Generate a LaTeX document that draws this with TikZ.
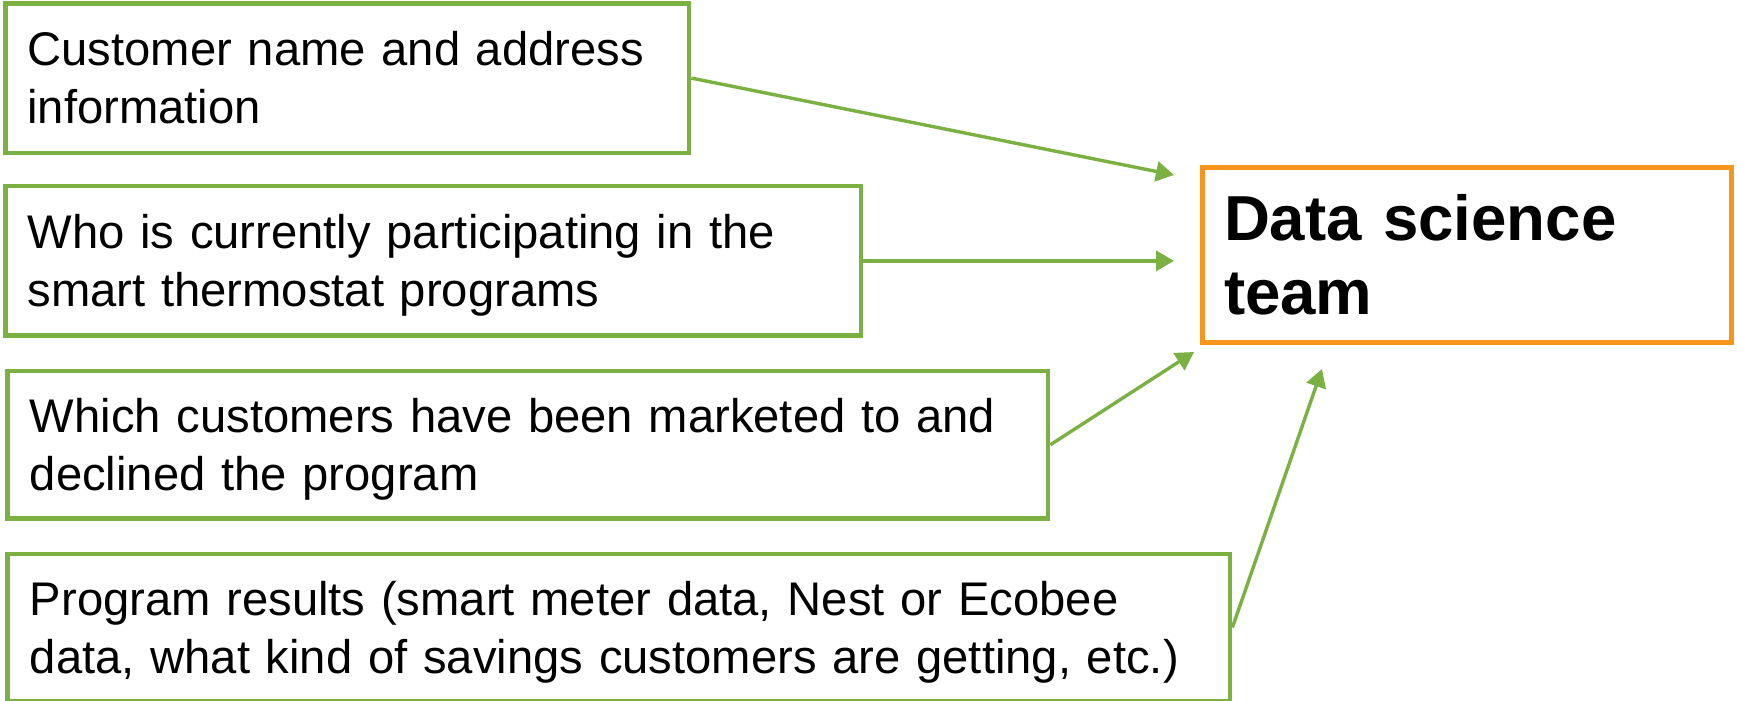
\documentclass[tikz,border=0pt]{standalone}
\usepackage{fontspec}
\setmainfont{Liberation Sans}
\usetikzlibrary{arrows.meta}
\definecolor{boxgreen}{HTML}{7BB043}
\definecolor{boxorange}{HTML}{F8951D}
\newcommand\zerodepth[1]{\raisebox{0pt}[\height][0pt]{#1}}
\tikzset{
  srcbox/.style={draw=boxgreen, line width=4.8pt, fill=white, align=left,
    inner xsep=22pt, inner ysep=0pt, font=\fontsize{47.2}{58}\selectfont},
  dstbox/.style={draw=boxorange, line width=5pt, fill=white, align=left,
    inner xsep=22pt, inner ysep=0pt, font=\fontsize{63.6}{74}\selectfont\bfseries},
  link/.style={draw=boxgreen, line width=3.4pt, -{Triangle[length=18pt,width=20pt]}}
}
\begin{document}
\begin{tikzpicture}[x=1pt,y=1pt]
\useasboundingbox (0,0) rectangle (1737,-701);
\node[srcbox, text width=639.5pt, minimum height=149.7pt] (b1) at (347.25,-78.1)
  {Customer name and address\\information};
\node[srcbox, text width=811.5pt, minimum height=149.7pt] (b2) at (433.25,-260.85)
  {Who is currently participating in the\\\zerodepth{smart thermostat programs}};
\node[srcbox, text width=996.2pt, minimum height=147.5pt] (b3) at (527.9,-444.75)
  {Which customers have been marketed to and\\\zerodepth{declined the program}};
\node[srcbox, text width=1178.2pt, minimum height=147pt] (b4) at (618.9,-627.5)
  {Program results (smart meter data, Nest or Ecobee\\\zerodepth{data, what kind of savings customers are getting, etc.)}};
\node[dstbox, text width=485.5pt, minimum height=175pt] (ds) at (1466.75,-254.8)
  {Data science\\team};
\coordinate (t1) at (1174,-175);
\coordinate (t2) at (1174,-260.85);
\coordinate (t3) at (1194,-352);
\coordinate (t4) at (1322,-369);
\draw[link] (b1.east) -- (t1);
\draw[link] (b2.east) -- (t2);
\draw[link] (b3.east) -- (t3);
\draw[link] (b4.east) -- (t4);
\end{tikzpicture}
\end{document}
